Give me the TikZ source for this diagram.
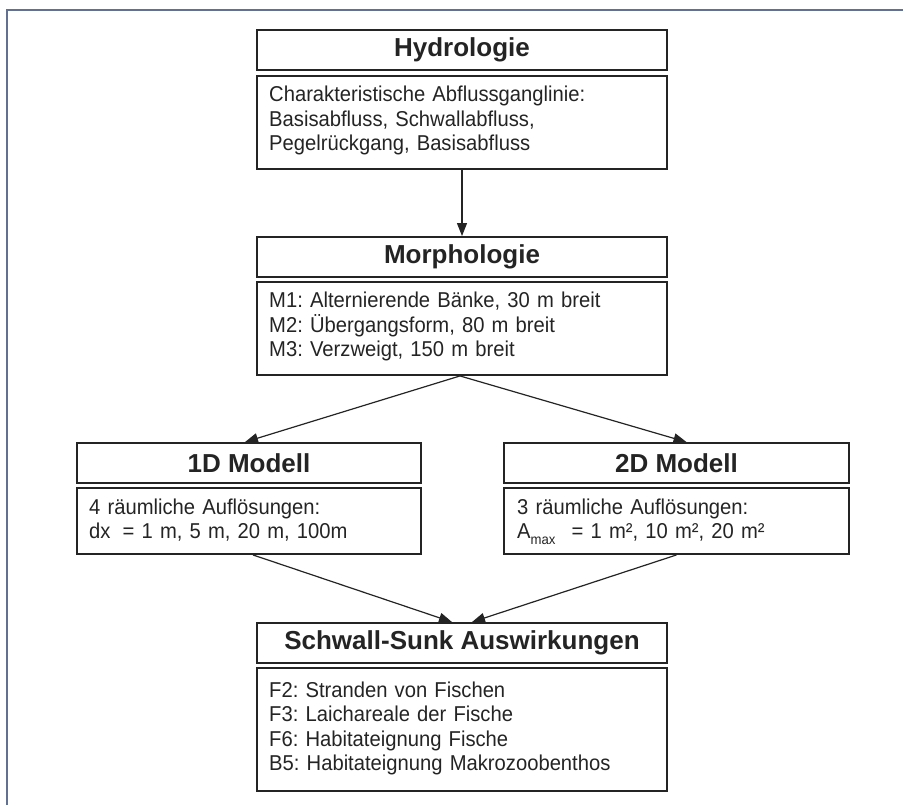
\documentclass[tikz,border=0pt]{standalone}
\usepackage{fontspec}
\setmainfont{Liberation Sans}
\newfontfamily\bodyfont[FakeStretch=0.94]{Liberation Sans}
\usetikzlibrary{arrows.meta,calc}
\definecolor{ink}{HTML}{242424}
\definecolor{framec}{HTML}{62718F}
\frenchspacing
\begin{document}
\begin{tikzpicture}[x=1pt,y=-1pt,
  headbox/.style={draw=ink,line width=1.9pt,rectangle,inner sep=0pt,text=ink,
    font={\fontsize{26}{28}\selectfont\bfseries}},
  bodybox/.style={draw=ink,line width=1.9pt,rectangle,inner sep=0pt},
  bodytext/.style={anchor=base west,inner sep=0pt,text=ink,text width=400pt,align=left,
    font={\bodyfont\fontsize{21.5}{24.5}\selectfont\frenchspacing}},
  arr/.style={draw=ink,line width=1.2pt,-{Triangle[length=13pt,width=10pt]}}]
\useasboundingbox (0,0) rectangle (903,805);
\fill[white] (0,0) rectangle (903,805);
% outer frame
\draw[framec,line width=2pt] (7,805) -- (7,10) -- (903,10);

% Hydrologie
\node[headbox,minimum width=410pt,minimum height=40pt] (h1) at (462,50) {Hydrologie};
\node[bodybox,minimum width=410pt,minimum height=93pt] (h2) at (462,122.5) {};
\node[bodytext] (h2t) at (269,102) {Charakteristische Abflussganglinie:\\Basisabfluss, Schwallabfluss,\\Pegelrückgang, Basisabfluss};

% Morphologie
\node[headbox,minimum width=410pt,minimum height=40pt] (m1) at (462,257) {Morphologie};
\node[bodybox,minimum width=410pt,minimum height=93pt] (m2) at (462,328.5) {};
\node[bodytext] (m2t) at (269,308) {M1: Alternierende Bänke, 30 m breit\\M2: Übergangsform, 80 m breit\\M3: Verzweigt, 150 m breit};

% 1D Modell
\node[headbox,minimum width=344pt,minimum height=40pt] (d1) at (249,463) {1D Modell};
\node[bodybox,minimum width=344pt,minimum height=66pt] (d2) at (249,521) {};
\node[bodytext] (d2t) at (89,514) {4 räumliche Auflösungen:\\dx\hspace{5pt} = 1 m, 5 m, 20 m, 100m};

% 2D Modell
\node[headbox,minimum width=345pt,minimum height=40pt] (e1) at (676.5,463) {2D Modell};
\node[bodybox,minimum width=345pt,minimum height=66pt] (e2) at (676.5,521) {};
\node[bodytext] (e2t) at (517,514) {3 räumliche Auflösungen:\\A\raisebox{-6pt}{\fontsize{14}{14}\selectfont max}\hspace{9pt} = 1 m², 10 m², 20 m²};

% Schwall-Sunk
\node[headbox,minimum width=410pt,minimum height=40pt] (s1) at (462,643) {Schwall-Sunk Auswirkungen};
\node[bodybox,minimum width=410pt,minimum height=123pt] (s2) at (462,729.5) {};
\node[bodytext] (s2t) at (269,697) {F2: Stranden von Fischen\\F3: Laichareale der Fische\\F6: Habitateignung Fische\\B5: Habitateignung Makrozoobenthos};

% connectors
\draw[arr] (h2.south) -- (m1.north);
\draw[arr] ([xshift=-2pt]m2.south) -- ([xshift=-4pt]d1.north);
\draw[arr] ([xshift=-2pt]m2.south) -- ([xshift=10pt]e1.north);
\draw[arr] ([xshift=4pt]d2.south) -- ([xshift=-10pt]s1.north);
\draw[arr] ([xshift=0pt]e2.south) -- ([xshift=10pt]s1.north);
\end{tikzpicture}
\end{document}
